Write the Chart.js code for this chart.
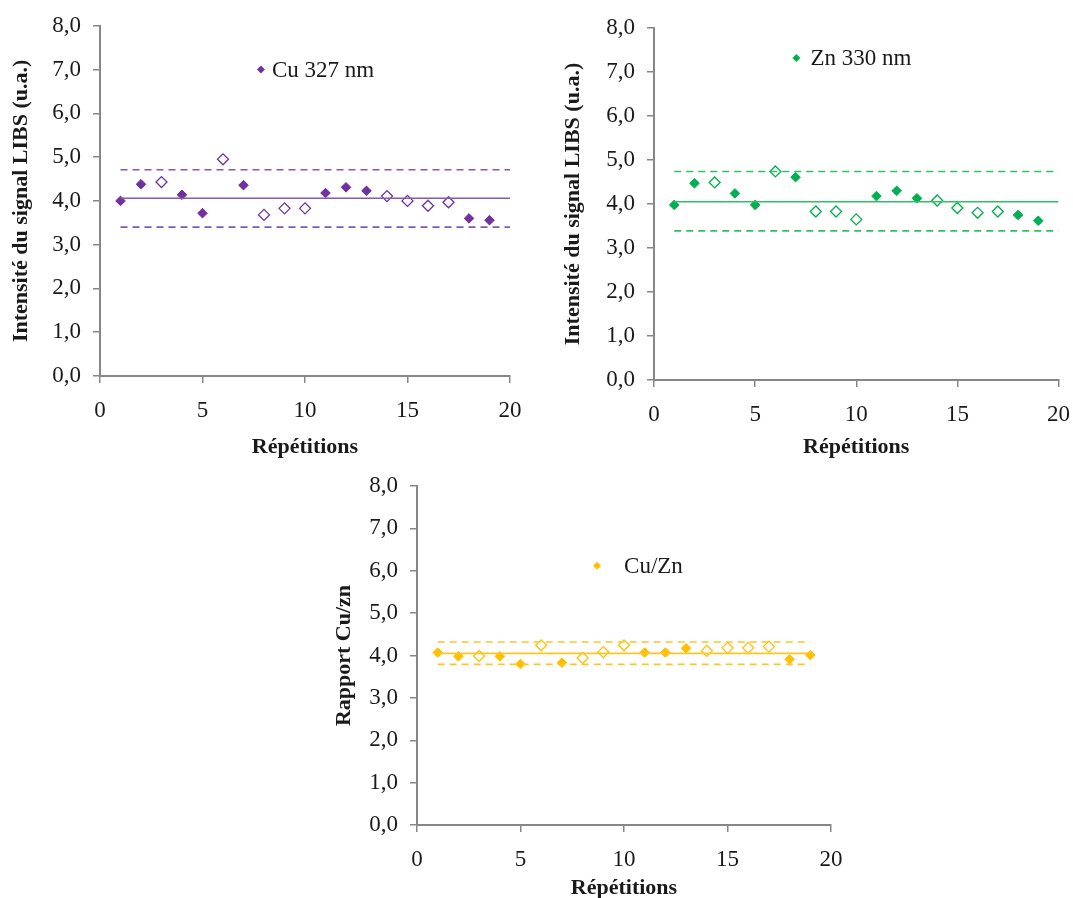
<!DOCTYPE html>
<html>
<head>
<meta charset="utf-8">
<script src="https://cdn.jsdelivr.net/npm/chart.js@4.4.0/dist/chart.umd.min.js"></script>
<style>
  html, body { margin: 0; padding: 0; background: #fff; overflow: hidden; }
  body { width: 1073px; height: 898px; position: relative; }
  canvas { position: absolute; }
</style>
</head>
<body>
<canvas id="cuChart" width="540" height="460" style="left:0px;top:0px"></canvas>
<canvas id="znChart" width="530" height="460" style="left:554px;top:0px"></canvas>
<canvas id="ratioChart" width="540" height="458" style="left:317px;top:440px"></canvas>
<script>
const repetitions = [1, 2, 3, 4, 5, 6, 7, 8, 9, 10, 11, 12, 13, 14, 15, 16, 17, 18, 19];
// marqueurs creux (losange vide) ou pleins
const openMarker = [false, false, true, false, false, true, false, true, true, true,
                    false, false, false, true, true, true, true, false, false];

const cuValues = [4.00, 4.38, 4.43, 4.14, 3.72, 4.95, 4.36, 3.68, 3.83, 3.83,
                  4.18, 4.31, 4.23, 4.11, 4.00, 3.89, 3.97, 3.60, 3.56];
const znValues = [3.98, 4.47, 4.49, 4.24, 3.98, 4.74, 4.61, 3.83, 3.83, 3.65,
                  4.18, 4.30, 4.13, 4.08, 3.91, 3.80, 3.83, 3.75, 3.62];
const ratioValues = [4.07, 3.98, 3.99, 3.98, 3.80, 4.24, 3.83, 3.94, 4.08, 4.24,
                     4.07, 4.07, 4.17, 4.11, 4.18, 4.18, 4.21, 3.91, 4.01];

// moyenne, limite haute, limite basse
const cuLevels = [4.06, 4.71, 3.40];
const znLevels = [4.05, 4.74, 3.39];
const ratioLevels = [4.05, 4.32, 3.79];

const lineRangeTop = [1, 20];
const lineRangeRatio = [1, 19];

const yTicks = [0, 1, 2, 3, 4, 5, 6, 7, 8];
const xTicks = [0, 5, 10, 15, 20];

const serif = 'Liberation Serif';
const axisGray = '#878787';

// petite légende dessinée dans la zone du graphe
const markLegend = {
    id: 'markLegend',
    afterDatasetsDraw(chart, args, opts) {
        const ctx = chart.ctx;
        const px = chart.scales.x.getPixelForValue(opts.x);
        const py = chart.scales.y.getPixelForValue(opts.y);
        ctx.save();
        ctx.fillStyle = opts.color;
        ctx.beginPath();
        ctx.moveTo(px, py - 4);
        ctx.lineTo(px + 4, py);
        ctx.lineTo(px, py + 4);
        ctx.lineTo(px - 4, py);
        ctx.closePath();
        ctx.fill();
        ctx.fillStyle = '#1a1a1a';
        ctx.font = '23px "' + serif + '"';
        ctx.textBaseline = 'middle';
        ctx.fillText(opts.text, px + opts.gap, py + 1);
        ctx.restore();
    }
};

function makeChart(id, cfg) {
    const pts = repetitions.map((r, i) => ({ x: r, y: cfg.values[i] }));
    const flat = (v) => cfg.range.map(x => ({ x: x, y: v }));
    const lineDs = (v, dash) => ({
        data: flat(v),
        showLine: true,
        borderColor: cfg.lineColor,
        borderWidth: 1.6,
        borderDash: dash,
        pointRadius: 0,
        fill: false
    });
    return new Chart(document.getElementById(id), {
        type: 'scatter',
        data: {
            datasets: [
                lineDs(cfg.levels[0], []),
                lineDs(cfg.levels[1], [7, 5]),
                lineDs(cfg.levels[2], [7, 5]),
                {
                    data: pts,
                    pointStyle: 'rectRot',
                    pointRadius: openMarker.map(o => o ? 5.5 : 4.8),
                    pointBorderWidth: openMarker.map(o => o ? 1.3 : 1),
                    pointBackgroundColor: openMarker.map(o => o ? '#ffffff' : cfg.color),
                    pointBorderColor: cfg.color
                }
            ]
        },
        options: {
            responsive: false,
            devicePixelRatio: 1,
            animation: false,
            layout: { padding: cfg.padding },
            plugins: {
                legend: { display: false },
                tooltip: { enabled: false },
                markLegend: cfg.legend
            },
            scales: {
                x: {
                    type: 'linear',
                    min: 0,
                    max: 20,
                    afterBuildTicks: (s) => { s.ticks = xTicks.map(v => ({ value: v })); },
                    afterFit: (s) => { s.height = cfg.xHeight; },
                    grid: { drawOnChartArea: false, color: axisGray, tickLength: 7, lineWidth: 1.5 },
                    border: { color: axisGray, width: 2 },
                    ticks: { padding: 14, color: '#1a1a1a', font: { family: serif, size: 23 } },
                    title: {
                        display: true,
                        text: 'Répétitions',
                        color: '#1a1a1a',
                        font: { family: serif, size: 22, weight: 'bold' },
                        padding: { top: 0, bottom: cfg.xTitlePad }
                    }
                },
                y: {
                    min: 0,
                    max: 8,
                    afterBuildTicks: (s) => { s.ticks = yTicks.map(v => ({ value: v })); },
                    afterFit: (s) => { s.width = 100; },
                    grid: { drawOnChartArea: false, color: axisGray, tickLength: 7, lineWidth: 1.5 },
                    border: { color: axisGray, width: 2 },
                    ticks: {
                        padding: 12,
                        color: '#1a1a1a',
                        font: { family: serif, size: 23 },
                        callback: (v) => v.toFixed(1).replace('.', ',')
                    },
                    title: {
                        display: true,
                        text: cfg.yTitle,
                        color: '#1a1a1a',
                        font: { family: serif, size: 22, weight: 'bold' },
                        padding: { top: cfg.yTitlePad, bottom: 0 }
                    }
                }
            }
        },
        plugins: [markLegend]
    });
}

makeChart('cuChart', {
    values: cuValues, levels: cuLevels, range: lineRangeTop,
    color: '#7030A0', lineColor: '#8459AE',
    padding: { left: 0, top: 24, right: 30, bottom: 0 },
    xHeight: 84, xTitlePad: -1, yTitlePad: 8,
    yTitle: 'Intensité du signal LIBS (u.a.)',
    legend: { x: 7.85, y: 7.0, gap: 11, text: 'Cu 327 nm', color: '#7030A0' }
});

makeChart('znChart', {
    values: znValues, levels: znLevels, range: lineRangeTop,
    color: '#00B050', lineColor: '#33BF66',
    padding: { left: 0, top: 28, right: 24, bottom: 0 },
    xHeight: 80, xTitlePad: -1, yTitlePad: 6,
    yTitle: 'Intensité du signal LIBS (u.a.)',
    legend: { x: 7.04, y: 7.32, gap: 14, text: 'Zn 330 nm', color: '#00B050' }
});

makeChart('ratioChart', {
    values: ratioValues, levels: ratioLevels, range: lineRangeRatio,
    color: '#FFC000', lineColor: '#FFC526',
    padding: { left: 0, top: 46, right: 26, bottom: 0 },
    xHeight: 73, xTitlePad: -4, yTitlePad: 14,
    yTitle: 'Rapport Cu/zn',
    legend: { x: 8.7, y: 6.12, gap: 27, text: 'Cu/Zn', color: '#FFC000' }
});
</script>
</body>
</html>
